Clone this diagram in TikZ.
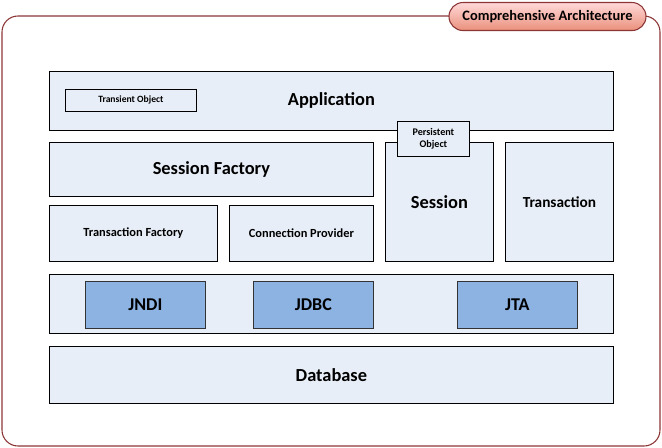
\documentclass[tikz,border=0pt]{standalone}
\usepackage{fontspec}
\setmainfont{Carlito}
\usetikzlibrary{shapes.misc}
\definecolor{boxfill}{HTML}{E8EEF7}
\definecolor{darkfill}{HTML}{8DB3E2}
\definecolor{frame}{HTML}{8C3535}
\tikzset{
  layer/.style={draw=black, fill=boxfill, line width=0.6pt, anchor=north west, inner sep=0pt, font=\bfseries},
  api/.style={draw=black!80, fill=darkfill, line width=0.6pt, anchor=north west, inner sep=0pt, font=\bfseries\fontsize{13.5}{15}\selectfont},
}
\begin{document}
\begin{tikzpicture}[x=0.75pt,y=-0.75pt]
\useasboundingbox (0,0) rectangle (662,448);
% outer frame and title
\draw[frame, line width=0.8pt, rounded corners=12pt] (2,16) rectangle (660,446);
\node[rounded rectangle, draw=frame, line width=0.8pt, top color=red!15, bottom color=red!45!brown!60,
  minimum width=197*0.75pt, minimum height=28*0.75pt, anchor=north west, inner sep=0pt,
  font=\bfseries\fontsize{10.8}{12}\selectfont] (title) at (463,2) {Comprehensive Architecture};
% layers
\node[layer, minimum width=564*0.75pt, minimum height=59*0.75pt, font=\bfseries\fontsize{13.8}{15}\selectfont] (app) at (49,71) {Application};
\node[layer, minimum width=131*0.75pt, minimum height=22*0.75pt, font=\bfseries\fontsize{7.2}{8}\selectfont] (transient) at (65,89) {Transient Object};
\node[layer, minimum width=324*0.75pt, minimum height=54*0.75pt, font=\bfseries\fontsize{13.8}{15}\selectfont] (sfactory) at (49,142) {Session Factory};
\node[layer, minimum width=108*0.75pt, minimum height=119*0.75pt, font=\bfseries\fontsize{13.8}{15}\selectfont] (session) at (385,142) {Session};
\node[layer, minimum width=72*0.75pt, minimum height=35*0.75pt, align=center, font=\bfseries\fontsize{7.6}{9.5}\selectfont] (persistent) at (397,121) {Persistent\\Object};
\node[layer, minimum width=108*0.75pt, minimum height=119*0.75pt, font=\bfseries\fontsize{11.5}{13}\selectfont] (transaction) at (505,142) {Transaction};
\node[layer, minimum width=168*0.75pt, minimum height=56*0.75pt, font=\bfseries\fontsize{9.3}{11}\selectfont] (tfactory) at (49,205) {Transaction Factory};
\node[layer, minimum width=144*0.75pt, minimum height=56*0.75pt, font=\bfseries\fontsize{9.3}{11}\selectfont] (cprovider) at (229,205) {Connection Provider};
\node[layer, minimum width=564*0.75pt, minimum height=59*0.75pt] (services) at (49,274) {};
\node[api, minimum width=120*0.75pt, minimum height=47*0.75pt] (jndi) at (85,281) {JNDI};
\node[api, minimum width=120*0.75pt, minimum height=47*0.75pt] (jdbc) at (253,281) {JDBC};
\node[api, minimum width=120*0.75pt, minimum height=47*0.75pt] (jta) at (457,281) {JTA};
\node[layer, minimum width=564*0.75pt, minimum height=57*0.75pt, font=\bfseries\fontsize{13.8}{15}\selectfont] (db) at (49,346) {Database};
\end{tikzpicture}
\end{document}
